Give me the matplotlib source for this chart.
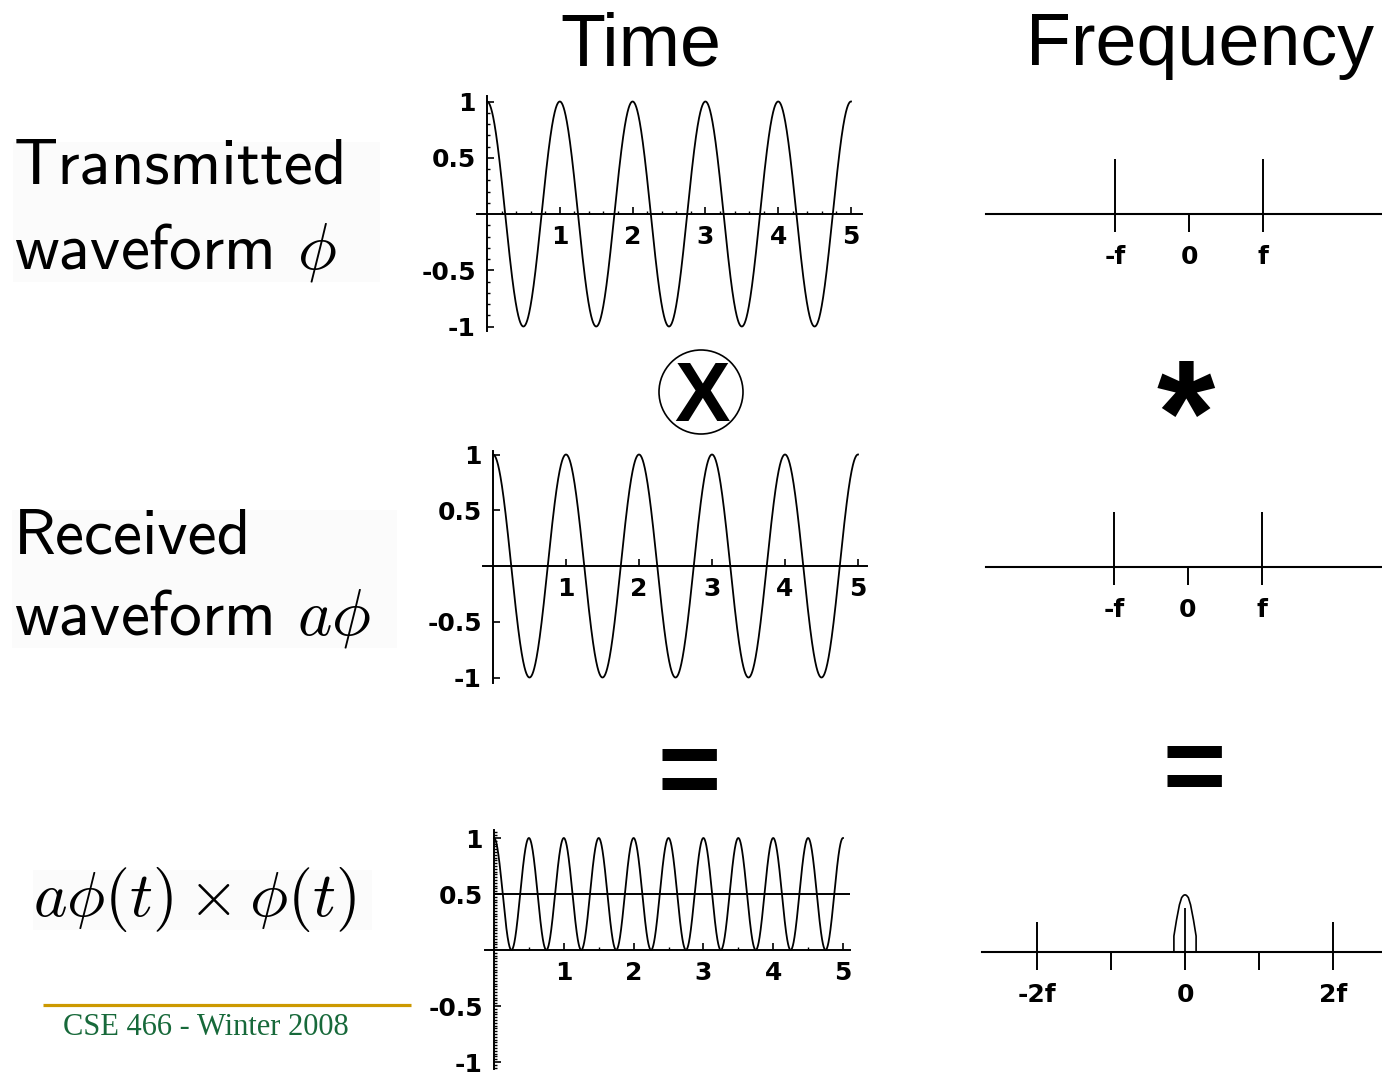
import numpy as np
import matplotlib
matplotlib.use("Agg")
import matplotlib.pyplot as plt
from matplotlib.ticker import FixedLocator, FixedFormatter, NullLocator
from matplotlib.patches import Circle, Rectangle

plt.rcParams['mathtext.fontset'] = 'cm'
plt.rcParams['axes.unicode_minus'] = False

W, H = 1382, 1074

# ---- time domain ----
t_start, t_end = 0.0, 5.0
carrier_cycles_per_unit = 1.0      # one cycle per time unit
echo_gain = 1.0                    # a
time_ticks = [1, 2, 3, 4, 5]
time_tick_labels = ["1", "2", "3", "4", "5"]
amp_ticks = [-1, -0.5, 0.5, 1]
amp_tick_labels = ["-1", "-0.5", "0.5", "1"]
product_mean = 0.5

# ---- frequency domain (in units of f) ----
single_ticks = [-1, 0, 1]
single_tick_labels = ["-f", "0", "f"]
impulse_freqs = [-1, 1]
impulse_heights = [1.0, 1.0]
product_ticks = [-2, -1, 0, 1, 2]
product_tick_labels = ["-2f", "", "0", "", "2f"]
double_freqs = [-2, 2]
double_heights = [0.55, 0.55]
dc_height = 0.8
lowpass_offsets = [-0.15, -0.15, -0.115, -0.075, -0.045, -0.02, 0.0,
                   0.02, 0.045, 0.075, 0.115, 0.15, 0.15]
lowpass_heights = [0.0, 0.29, 0.58, 0.86, 0.99, 1.03, 1.04,
                   1.03, 0.99, 0.86, 0.58, 0.29, 0.0]

t = np.linspace(t_start, t_end, 2001)
phi = np.cos(2 * np.pi * carrier_cycles_per_unit * t)
received = echo_gain * phi
product = received * phi

fig = plt.figure(figsize=(W / 100, H / 100), dpi=100)

# full-figure overlay in pixel coordinates for headings and operators
ov = fig.add_axes([0, 0, 1, 1])
ov.set_xlim(0, W)
ov.set_ylim(H, 0)
ov.axis('off')


def px_axes(L, T, R, B):
    ax = fig.add_axes([L / W, 1 - B / H, (R - L) / W, (B - T) / H])
    ax.patch.set_alpha(0)
    return ax


def bold_ticklabels(ax):
    for lab in ax.get_xticklabels() + ax.get_yticklabels():
        lab.set_fontfamily('DejaVu Sans')
        lab.set_fontweight('bold')


def minor_positions(step, lo, hi, majors):
    n_lo, n_hi = int(np.ceil(lo / step)), int(np.floor(hi / step))
    pos = [k * step for k in range(n_lo, n_hi + 1)]
    return [p for p in pos if abs(p) > 1e-9 and all(abs(p - m) > 1e-9 for m in majors)]


def time_panel(box, x0, sx, y0, sy, xspan, yspan, y_minor, x_minor):
    L, T, R, B = box
    ax = px_axes(L, T, R, B)
    ax.set_xlim((L - x0) / sx, (R - x0) / sx)
    ax.set_ylim((y0 - B) / sy, (y0 - T) / sy)
    for s in ('top', 'right'):
        ax.spines[s].set_visible(False)
    ax.spines['left'].set_position(('data', 0))
    ax.spines['bottom'].set_position(('data', 0))
    ax.spines['left'].set_bounds(*yspan)
    ax.spines['bottom'].set_bounds(*xspan)
    for s in ('left', 'bottom'):
        ax.spines[s].set_linewidth(1.4)
    ax.xaxis.set_major_locator(FixedLocator(time_ticks))
    ax.xaxis.set_major_formatter(FixedFormatter(time_tick_labels))
    ax.yaxis.set_major_locator(FixedLocator(amp_ticks))
    ax.yaxis.set_major_formatter(FixedFormatter(amp_tick_labels))
    if x_minor:
        ax.xaxis.set_minor_locator(FixedLocator(
            minor_positions(x_minor, 0, xspan[1], time_ticks)))
    if y_minor:
        ax.yaxis.set_minor_locator(FixedLocator(
            minor_positions(y_minor, yspan[0], yspan[1], amp_ticks)))
    ax.tick_params(which='major', direction='in', length=5, width=1.2,
                   labelsize=18, pad=8)
    ax.tick_params(which='minor', direction='in', length=2.5, width=1.0)
    bold_ticklabels(ax)
    return ax


def freq_panel(box, x0, sx, y0, sy, xspan, ticks, labels):
    L, T, R, B = box
    ax = px_axes(L, T, R, B)
    ax.set_xlim((L - x0) / sx, (R - x0) / sx)
    ax.set_ylim((y0 - B) / sy, (y0 - T) / sy)
    for s in ('top', 'right', 'left'):
        ax.spines[s].set_visible(False)
    ax.spines['bottom'].set_position(('data', 0))
    ax.spines['bottom'].set_bounds(*xspan)
    ax.spines['bottom'].set_linewidth(1.5)
    ax.yaxis.set_major_locator(NullLocator())
    ax.xaxis.set_major_locator(FixedLocator(ticks))
    ax.xaxis.set_major_formatter(FixedFormatter(labels))
    ax.tick_params(axis='x', direction='out', length=13, width=1.4,
                   labelsize=18, pad=9)
    bold_ticklabels(ax)
    return ax


# ---- time-domain panels ----
ax1 = time_panel((400, 85, 880, 345), 487, 72.8, 214, 112.5,
                 (-0.14, 5.15), (-1.04, 1.05), 0.1, 0.2)
ax1.plot(t, phi, color='black', lw=1.3)

ax2 = time_panel((400, 440, 880, 700), 493, 73.0, 566, 111.5,
                 (-0.14, 5.12), (-1.05, 1.03), None, None)
ax2.plot(t, received, color='black', lw=1.3)

ax3 = time_panel((400, 820, 880, 1074), 494, 69.8, 950, 112.0,
                 (-0.13, 5.1), (-1.06, 1.07), 0.025, 0.5)
ax3.plot(t, product, color='black', lw=1.3)
ax3.hlines(product_mean, 0, 5.1, color='black', lw=1.4)

# ---- frequency-domain panels ----
fx1 = freq_panel((975, 130, 1382, 290), 1189, 74, 214, 55,
                 (-2.74, 2.7), single_ticks, single_tick_labels)
fx1.vlines(impulse_freqs, 0, impulse_heights, color='black', lw=1.4)

fx2 = freq_panel((975, 480, 1382, 640), 1188, 74, 567, 55,
                 (-2.73, 2.7), single_ticks, single_tick_labels)
fx2.vlines(impulse_freqs, 0, impulse_heights, color='black', lw=1.4)

fx3 = freq_panel((970, 860, 1382, 1030), 1185, 74, 952, 55,
                 (-2.75, 2.7), product_ticks, product_tick_labels)
fx3.vlines(double_freqs, 0, double_heights, color='black', lw=1.4)
fx3.vlines([0], 0, [dc_height], color='black', lw=1.3)
fx3.plot(lowpass_offsets, lowpass_heights, color='black', lw=1.2)

# ---- column headings ----
ov.text(641, 65, "Time", fontsize=53, family='Liberation Sans',
        ha='center', va='baseline')
ov.text(1200, 65, "Frequency", fontsize=53, family='Liberation Sans',
        ha='center', va='baseline')

# ---- row labels ----
for (x0, y0, x1, y1) in [(13, 142, 380, 282), (12, 510, 397, 648), (33, 870, 372, 930)]:
    ov.add_patch(Rectangle((x0, y0), x1 - x0, y1 - y0, facecolor='#fbfbfb',
                           edgecolor='none', zorder=0))
label_font = dict(fontsize=47, family='cmss10', ha='left', va='baseline')
ov.text(14, 183, "Transmitted", **label_font)
ov.text(14, 268, r"waveform $\phi$", **label_font)
ov.text(14, 553, "Received", **label_font)
ov.text(14, 635, r"waveform $a\phi$", **label_font)
ov.text(33, 916, r"$a\phi(t)\times\phi(t)$", fontsize=46, ha='left', va='baseline')

# ---- operators ----
ov.add_patch(Circle((701, 392), 42, facecolor='none', edgecolor='black', lw=1.2))
ov.text(702, 421, "X", fontsize=60, family='Liberation Sans', fontweight='bold',
        ha='center', va='baseline')
ov.text(1186, 465, "*", fontsize=108, family='Liberation Sans', fontweight='bold',
        ha='center', va='baseline')
ov.text(689, 805, "=", fontsize=78, family='Liberation Sans', fontweight='bold',
        ha='center', va='baseline')
ov.text(1194, 802, "=", fontsize=78, family='Liberation Sans', fontweight='bold',
        ha='center', va='baseline')

# ---- footer ----
ov.plot([43, 411], [1005, 1005], color='#CC9900', lw=2.3, solid_capstyle='butt')
ov.text(63, 1035, "CSE 466 - Winter 2008", fontsize=22, family='Liberation Serif',
        color='#17693A', ha='left', va='baseline')

fig.savefig("out.png", dpi=100)
